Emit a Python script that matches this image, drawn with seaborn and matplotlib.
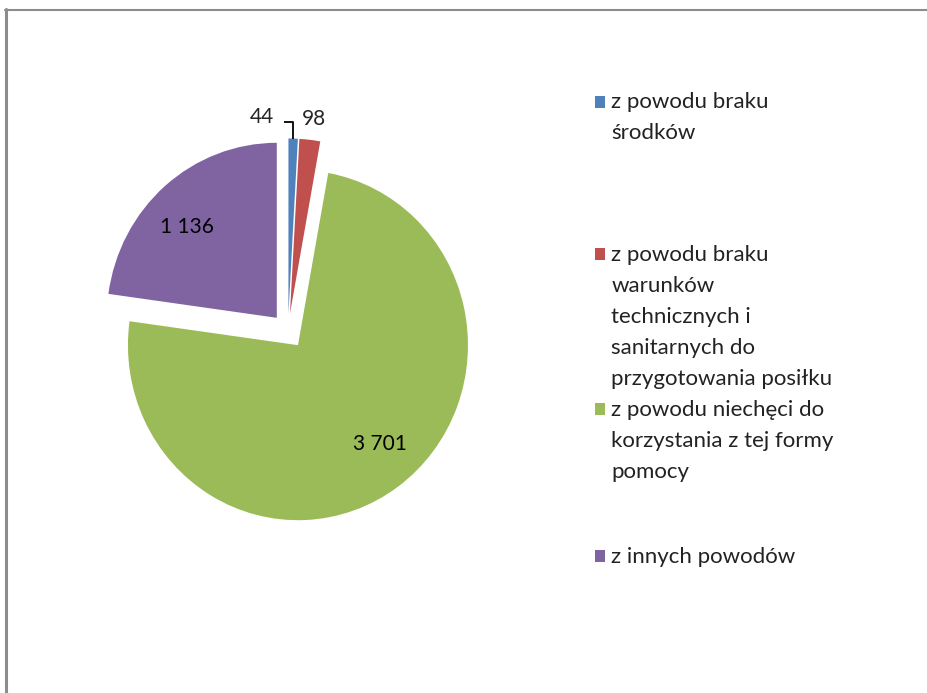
import numpy as np
import matplotlib
matplotlib.use("Agg")
import matplotlib.pyplot as plt
import seaborn as sns
from matplotlib.patches import Rectangle
from matplotlib.legend_handler import HandlerPatch
from matplotlib.lines import Line2D

# data
categories = [
    "z powodu braku\nśrodków",
    "z powodu braku\nwarunków\ntechnicznych i\nsanitarnych do\nprzygotowania posiłku",
    "z powodu niechęci do\nkorzystania z tej formy\npomocy",
    "z innych powodów",
]
values = [44, 98, 3701, 1136]
colors = ["#4F81BD", "#C0504D", "#9BBB59", "#8064A2"]

sns.set_theme(style="white")
plt.rcParams['font.family'] = ['Lato', 'DejaVu Sans']

fig = plt.figure(figsize=(9.27, 6.93), dpi=100)
ax = fig.add_axes([0.0539, 0.1688, 0.5135, 0.7071])

wedges, _ = ax.pie(values, colors=colors, startangle=90, counterclock=False,
                   explode=[0.1] * 4, wedgeprops=dict(linewidth=0))
ax.set_aspect("auto")
ax.set_xlim(-1.4, 1.4)
ax.set_ylim(-1.4, 1.4)
ax.axis("off")

def fmt(v):
    return f"{v:,}".replace(",", " ")

lab_fs = 15
for w, v in zip(wedges, values):
    # labels sit a little counter-clockwise of the slice middle
    mid = np.deg2rad((w.theta1 + w.theta2) / 2 + 4.5)
    cx, cy = w.center
    if v > 500:
        ax.text(cx + 0.74 * np.cos(mid), cy + 0.74 * np.sin(mid), fmt(v),
                ha="center", va="center", fontsize=lab_fs, color="black")

# small slices: labels outside, with leader line for the first one
wb = wedges[0]
mid = np.deg2rad((wb.theta1 + wb.theta2) / 2)
sx = wb.center[0] + np.cos(mid)
sy = wb.center[1] + np.sin(mid)
ax.plot([sx, sx, sx - 0.055], [sy, 1.194, 1.194], color="black", lw=1.3,
        solid_capstyle="butt", clip_on=False)
ax.text(-0.153, 1.223, fmt(values[0]), ha="center", va="center", fontsize=lab_fs)
ax.text(0.153, 1.211, fmt(values[1]), ha="center", va="center", fontsize=lab_fs)

# legend: one block per entry, handle aligned to first line
leg_fs = 16
line_pt = 23.0

def make_square(legend, orig_handle, xdescent, ydescent, width, height, fontsize):
    n = orig_handle._nlines
    off = (n - 1) / 2 * line_pt
    return Rectangle((-xdescent, -ydescent + off), width, height)

tops = [0.867, 0.646, 0.423, 0.21]
for lab, col, top in zip(categories, colors, tops):
    h = Rectangle((0, 0), 1, 1, facecolor=col, edgecolor="none")
    h._nlines = lab.count("\n") + 1
    leg = fig.legend(handles=[h], labels=[lab], loc="upper left",
                     bbox_to_anchor=(0.642, top), frameon=False,
                     borderpad=0, borderaxespad=0, handlelength=0.45,
                     handleheight=0.45, handletextpad=0.28,
                     fontsize=leg_fs,
                     handler_map={Rectangle: HandlerPatch(patch_func=make_square)})
    for t in leg.get_texts():
        t.set_linespacing(1.69)
        t.set_color("#222222")

# page borders
fig.add_artist(Line2D([6 / 927, 6 / 927], [0, 1 - 9 / 693], transform=fig.transFigure,
                      color="#8c8c8c", lw=2.2))
fig.add_artist(Line2D([5 / 927, 1], [1 - 9.5 / 693, 1 - 9.5 / 693], transform=fig.transFigure,
                      color="#8c8c8c", lw=1.5))

fig.savefig("out.png", dpi=100)
